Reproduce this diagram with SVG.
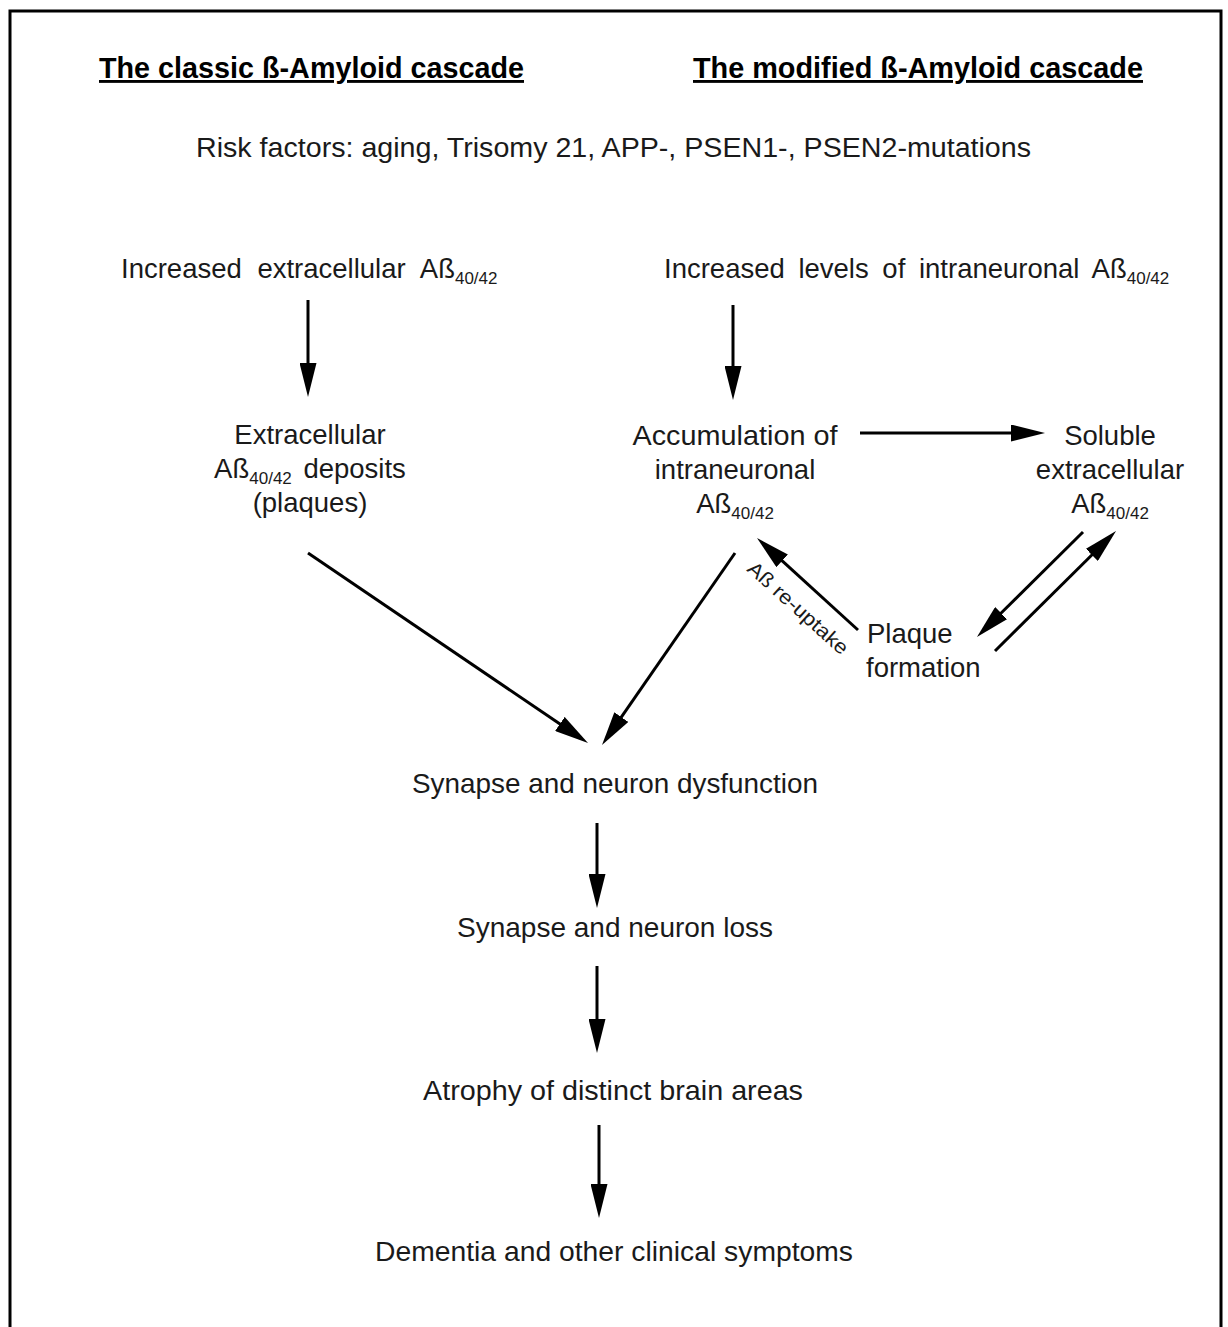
<svg xmlns="http://www.w3.org/2000/svg" width="1228" height="1327" viewBox="0 0 1228 1327">
<style>
  text { font-family: "Liberation Sans", Arial, sans-serif; fill: #1a1a1a; font-size: 27.5px; }
  .hdr { font-weight: bold; font-size: 28.7px; text-decoration: underline; fill: #000; }
  .mid { text-anchor: middle; }
  .sub { font-size: 17px; }
  .lbl { font-size: 20px; }
  .conn { stroke: #000; stroke-width: 3; fill: none; marker-end: url(#ah); }
</style>
<defs>
  <marker id="ah" viewBox="0 0 34 17" markerWidth="34" markerHeight="17" markerUnits="userSpaceOnUse" refX="1" refY="8.5" orient="auto">
    <path d="M0,0 L34,8.5 L0,17 z" fill="#000"/>
  </marker>
</defs>
<rect width="1228" height="1327" fill="#fff"/>
<path d="M10,1327 V11 H1221 V1327" fill="none" stroke="#000" stroke-width="3"/>

<g id="header-classic"><text class="hdr mid" x="311.5" y="78" textLength="425" lengthAdjust="spacingAndGlyphs">The classic ß-Amyloid cascade</text></g>
<g id="header-modified"><text class="hdr mid" x="918" y="78" textLength="450" lengthAdjust="spacingAndGlyphs">The modified ß-Amyloid cascade</text></g>
<g id="risk-factors"><text class="mid" x="613.5" y="157" textLength="835" lengthAdjust="spacingAndGlyphs">Risk factors: aging, Trisomy 21, APP-, PSEN1-, PSEN2-mutations</text></g>

<g id="increased-extracellular"><text x="121" y="278" word-spacing="8">Increased extracellular Aß<tspan class="sub" dy="6">40/42</tspan></text></g>
<g id="increased-intraneuronal"><text x="664" y="278" word-spacing="6">Increased levels of intraneuronal Aß<tspan class="sub" dy="6">40/42</tspan></text></g>

<g id="extracellular-deposits">
  <text class="mid" x="310" y="444">Extracellular</text>
  <text class="mid" x="310" y="478" word-spacing="4">Aß<tspan class="sub" dy="6">40/42</tspan><tspan dy="-6"> deposits</tspan></text>
  <text class="mid" x="310" y="512">(plaques)</text>
</g>
<g id="accumulation">
  <text class="mid" x="735" y="445" textLength="205" lengthAdjust="spacingAndGlyphs">Accumulation of</text>
  <text class="mid" x="735" y="479">intraneuronal</text>
  <text class="mid" x="735" y="513">Aß<tspan class="sub" dy="6">40/42</tspan></text>
</g>
<g id="soluble">
  <text class="mid" x="1110" y="445">Soluble</text>
  <text class="mid" x="1110" y="479">extracellular</text>
  <text class="mid" x="1110" y="513">Aß<tspan class="sub" dy="6">40/42</tspan></text>
</g>
<g id="plaque-formation">
  <text x="867" y="643">Plaque</text>
  <text x="866" y="677">formation</text>
</g>
<g id="dysfunction"><text class="mid" x="615" y="793" textLength="406" lengthAdjust="spacingAndGlyphs">Synapse and neuron dysfunction</text></g>
<g id="loss"><text class="mid" x="615" y="937" textLength="316" lengthAdjust="spacingAndGlyphs">Synapse and neuron loss</text></g>
<g id="atrophy"><text class="mid" x="613" y="1100" textLength="380" lengthAdjust="spacingAndGlyphs">Atrophy of distinct brain areas</text></g>
<g id="dementia"><text class="mid" x="614" y="1261" textLength="478" lengthAdjust="spacingAndGlyphs">Dementia and other clinical symptoms</text></g>

<g id="connectors">
  <line class="conn" x1="308" y1="300" x2="308" y2="364"/>
  <line class="conn" x1="733" y1="305" x2="733" y2="367"/>
  <line class="conn" x1="860" y1="433" x2="1012" y2="433"/>
  <line class="conn" x1="1083" y1="532" x2="1000.4" y2="613.8"/>
  <line class="conn" x1="995" y1="651" x2="1092.6" y2="554.2"/>
  <line class="conn" x1="858" y1="630" x2="781.4" y2="560.2"/>
  <line class="conn" x1="308" y1="553" x2="560.7" y2="724.5"/>
  <line class="conn" x1="735" y1="553" x2="620.8" y2="717.9"/>
  <line class="conn" x1="597" y1="823" x2="597" y2="875"/>
  <line class="conn" x1="597" y1="966" x2="597" y2="1020"/>
  <line class="conn" x1="599" y1="1125" x2="599" y2="1185"/>
  <text class="lbl mid" transform="translate(793.5,613) rotate(42)" textLength="128" lengthAdjust="spacingAndGlyphs">Aß re-uptake</text>
</g>
</svg>
